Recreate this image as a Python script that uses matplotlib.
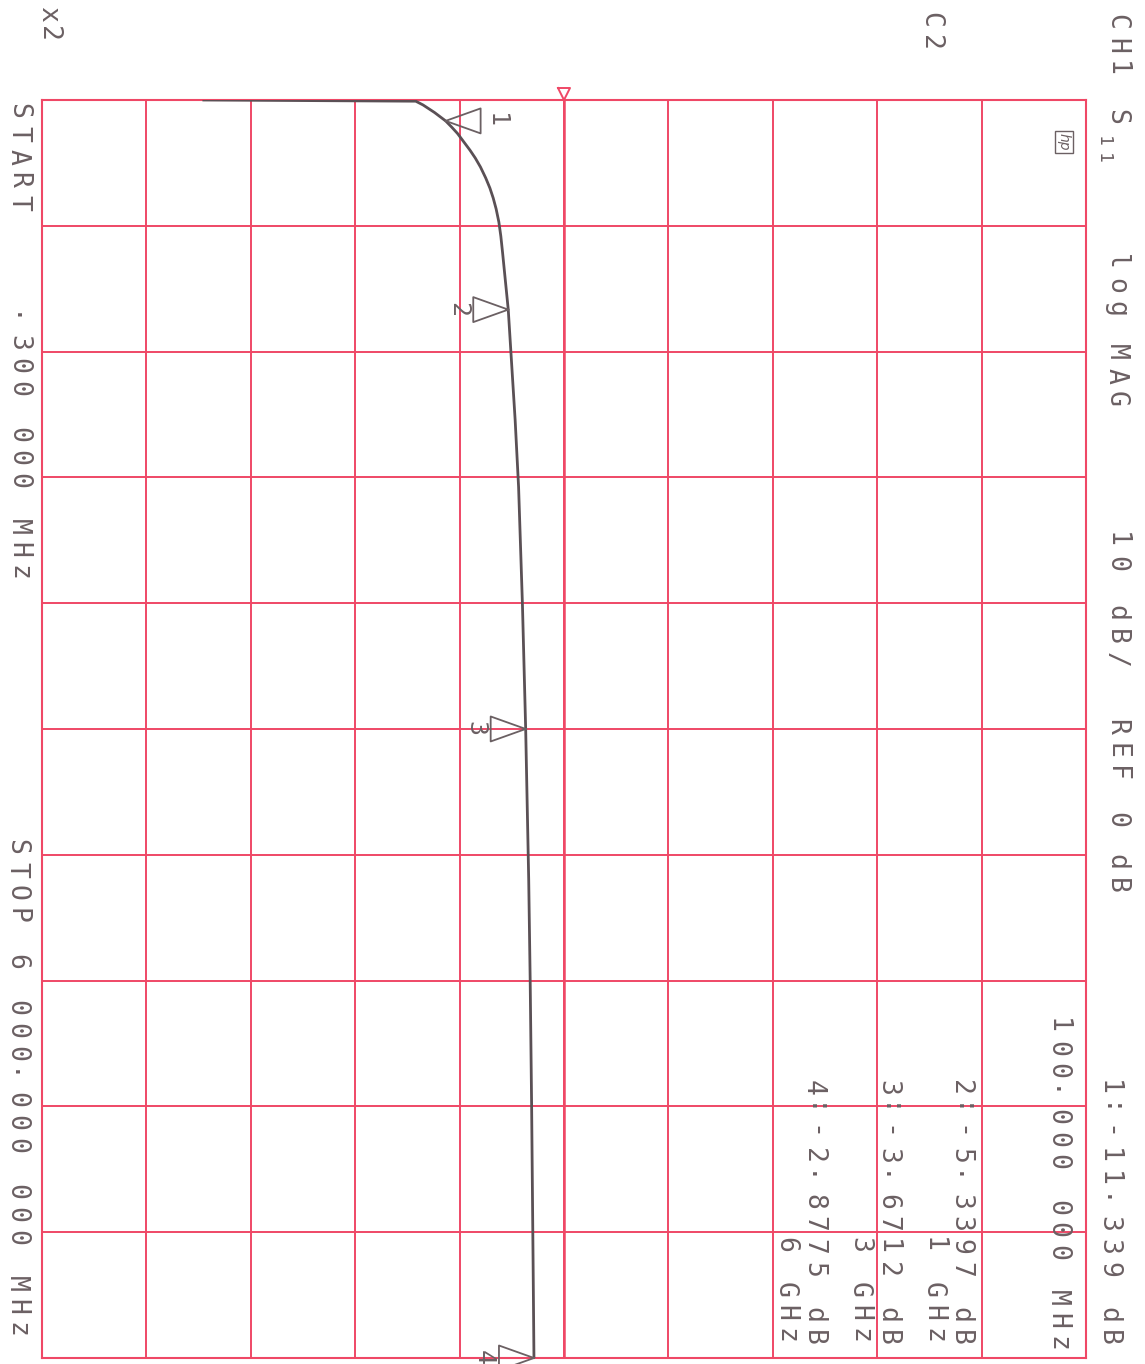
import matplotlib
matplotlib.use("Agg")
import matplotlib.pyplot as plt
import numpy as np

# S11 log-mag trace (MHz, dB)
freq_mhz = [0.3, 6, 24, 60, 100, 130, 160, 200, 240, 277, 320, 372, 420, 468,
            520, 582, 650, 730, 870, 1000, 1207, 1526, 1846, 2408, 3000, 3720,
            4197, 4803, 5547, 6000]
s11_db = [-34.5, -14.2, -13.5, -12.4, -11.339, -10.75, -10.2, -9.6, -9.0,
          -8.5, -8.0, -7.5, -7.1, -6.78, -6.5, -6.24, -6.05, -5.88, -5.6,
          -5.3397, -5.08, -4.68, -4.35, -3.98, -3.6712, -3.38, -3.24, -3.1,
          -2.96, -2.8775]

# markers: number, frequency, value
marker_ids = [1, 2, 3, 4]
marker_mhz = [100, 1000, 3000, 6000]
marker_db = [-11.339, -5.3397, -3.6712, -2.8775]
marker_freq_txt = ["100.000 000 MHz", "1 GHz", "3 GHz", "6 GHz"]

start_mhz, stop_mhz = 0.3, 6000.0
ref_db, db_per_div = 0, 10

W, H = 1145, 1364
red = "#ef4866"
ink = "#6b6063"
trace_col = "#5a5055"

fig = plt.figure(figsize=(W / 100, H / 100), dpi=100)
ax = fig.add_axes([42 / W, 6 / H, 1044 / W, 1258 / H])
ax.set_xlim(ref_db - 5 * db_per_div, ref_db + 5 * db_per_div)
ax.set_ylim(stop_mhz, start_mhz)
ax.set_xticks(np.arange(-50, 51, 10))
ax.set_yticks(np.linspace(start_mhz, stop_mhz, 11))
ax.tick_params(length=0, labelbottom=False, labelleft=False)
ax.grid(True, color=red, lw=1.4)
ax.axvline(ref_db, color=red, lw=1.8)
for s in ax.spines.values():
    s.set_color(red)
    s.set_linewidth(1.5)

ax.plot(s11_db, freq_mhz, color=trace_col, lw=2.0, zorder=5)

# size of one pixel in data units
dbpx = 100 / 1044
mhzpx = (stop_mhz - start_mhz) / 1258

# reference marker at the top
tx = [ref_db - 6 * dbpx, ref_db + 6 * dbpx, ref_db, ref_db - 6 * dbpx]
ty = [start_mhz - 12 * mhzpx, start_mhz - 12 * mhzpx, start_mhz, start_mhz - 12 * mhzpx]
ax.plot(tx, ty, color=red, lw=1.4, clip_on=False)

mono = "DejaVu Sans Mono"
for n, f, d in zip(marker_ids, marker_mhz, marker_db):
    side = 1 if n == 1 else -1
    bx = d + side * 35 * dbpx
    hh = 12.5 * mhzpx
    ax.plot([d, bx, bx, d], [f, f - hh, f + hh, f], color=ink, lw=1.3,
            clip_on=False, zorder=6)
    ax.annotate(str(n), xy=(d, f), xytext=(side * 50, 0),
                textcoords="offset pixels", rotation=270, ha="center",
                va="center", fontsize=18, family=mono, color=ink,
                annotation_clip=False)


def put(x, y, s, size=19, pitch=22.7):
    # plotter text: one character per cell, read top to bottom
    for i, ch in enumerate(s):
        if ch != " ":
            fig.text(x / W, 1 - (y + i * pitch) / H, ch, rotation=270,
                     ha="center", va="center", fontsize=size, family=mono,
                     color=ink)


# header along the right edge
for tok, y in [("CH1", 22), ("S", 117), ("log", 262), ("MAG", 352),
               ("10", 540), ("dB/", 613), ("REF", 727), ("0", 820),
               ("dB", 862)]:
    put(1116, y, tok, pitch=23.5)
put(1103, 141, "11", size=13, pitch=17)
put(930, 20, "C2")
fig.text(1064 / W, 1 - 142 / H, "hp", rotation=270, ha="center", va="center",
         fontsize=10, style="italic", family="DejaVu Sans", color=ink,
         bbox=dict(boxstyle="square,pad=0.15", fc="none", ec=ink, lw=1))

# sweep info along the left edge
put(48, 14, "x2", pitch=20)
put(18, 111, "START", pitch=23)
put(18, 320, ".300 000 MHz", pitch=23)
put(16, 847, "STOP 6 000.000 000 MHz", pitch=23)

# marker readouts
val_x = [1108, 960, 887, 813]
frq_x = [1057, 933, 859, 785]
for n, d, ftxt, vx, fx in zip(marker_ids, marker_db, marker_freq_txt, val_x, frq_x):
    dec = 3 if n == 1 else 4
    put(vx, 1088, f"{n}:{d:.{dec}f} dB")
    put(fx, 1026 if n == 1 else 1245, ftxt)

fig.savefig("out.png", dpi=100)
